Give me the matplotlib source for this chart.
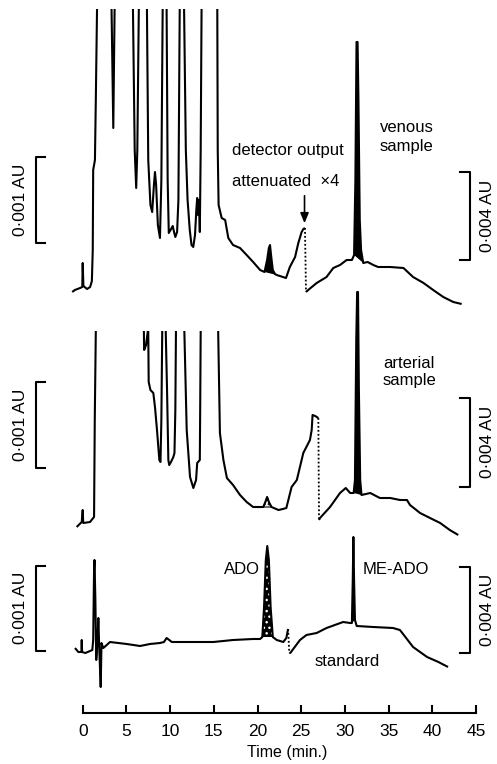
import numpy as np
import matplotlib
matplotlib.use("Agg")
import matplotlib.pyplot as plt

# ---------------- data (time in min, signal in display units above panel base) -------------
nan = np.nan

# venous sample: before the attenuation change
venous_t1 = [-1.2, -0.9, -0.3, -0.05, 0.0, 0.08, 0.5, 0.85, 1.05, 1.15, 1.2, 1.4, 1.5, 1.64, nan,
             3.3, 3.5, 3.65, nan,
             5.75, 5.95, 6.12, 6.25, 6.42, nan,
             7.35, 7.5, 7.75, 7.95, 8.15, 8.27, 8.4, 8.6, 8.84, 9.0, 9.15, nan,
             9.6, 9.72, 9.85, 10.05, 10.3, 10.45, 10.6, 10.8, 10.95, 11.1, nan,
             11.6, 11.8, 12.0, 12.25, 12.45, 12.65, 12.85, 13.0, 13.1, 13.2, 13.3, 13.4, 13.5, 13.6, nan,
             15.4, 15.45, 15.55, 15.9, 16.3, 16.66, 17.2, 18.0, 18.76, 19.5, 20.3, 20.8,
             21.1, 21.3, 21.43, 21.55, 21.75, 22.0, 22.2, 23.26, 23.7, 24.3, 24.67, 25.05, 25.25, 25.43]
venous_v1 = [8, 10, 12, 13, 37, 14, 11, 13, 19, 50, 130, 140, 200, 291, nan,
             291, 172, 291, nan,
             291, 150, 112, 150, 291, nan,
             291, 140, 95, 88, 115, 128, 115, 75, 62, 120, 291, nan,
             291, 120, 67, 70, 74, 68, 63, 68, 100, 291, nan,
             291, 150, 100, 70, 55, 53, 65, 90, 102, 85, 100, 68, 150, 291, nan,
             291, 150, 95, 82, 80, 62, 55, 52, 45, 38, 30, 28,
             40, 52, 55, 45, 30, 26, 25, 22, 33, 43, 57, 68, 71, 72]
# venous sample: after the attenuation change (x4)
venous_t2 = [25.55, 25.8, 26.77, 27.9, 28.67, 29.44, 30.2, 30.8, 31.05, 31.2, 31.33, 31.45, 31.55,
             31.7, 31.85, 32.1, 32.6, 33.25, 33.8, 35.16, 36.7, 37.8, 39.0, 40.1, 41.26, 42.4, 43.36]
venous_v2 = [8, 10, 17, 23, 32, 35, 40, 40, 45, 120, 258, 258, 200,
             80, 50, 37, 38, 35, 33, 33, 32, 23, 17, 10, 3, -2, -4]

# arterial sample
arterial_t1 = [-0.69, -0.11, 0.0, 0.06, 0.84, 1.2, 1.3, 1.38, 1.5, nan,
               7.0, 7.03, 7.25, 7.45, nan,
               7.5, 7.55, 7.75, 8.08, 8.27, 8.5, 8.77, 8.9, 9.0, 9.1, nan,
               9.5, 9.65, 9.8, 9.9, 10.1, 10.37, 10.5, 10.6, 10.67, nan,
               11.63, 11.9, 12.28, 12.66, 12.97, 13.1, 13.4, 13.45, 13.5, nan,
               15.5, 15.7, 16.1, 16.5, 17.2, 18.0, 18.76, 19.5, 20.66, 20.9, 21.1, 21.3, 21.6,
               22.4, 22.9, 23.3, 23.9, 24.5, 25.24, 26.0, 26.2, 26.3, 26.6, 26.96]
arterial_v1 = [13, 18, 30, 17, 18, 22, 23, 120, 209, nan,
               209, 190, 195, 209, nan,
               209, 158, 150, 147, 133, 110, 80, 78, 120, 209, nan,
               209, 150, 80, 75, 78, 83, 87, 130, 209, nan,
               209, 110, 63, 52, 60, 77, 80, 140, 209, nan,
               209, 107, 80, 62, 55, 45, 38, 33, 33, 38, 43, 38, 33,
               30, 31, 32, 53, 60, 87, 100, 110, 125, 124, 122]
arterial_t2 = [27.04, 27.15, 28.3, 29.44, 30.1, 30.6, 31.0, 31.15, 31.3, 31.4, 31.5, 31.6, 31.75,
               31.9, 32.9, 34.0, 35.2, 36.3, 37.1, 37.45, 38.6, 39.74, 40.9, 42.0, 42.97]
arterial_v2 = [20, 22, 33, 47, 52, 47, 47, 60, 200, 248, 248, 150, 60,
               45, 47, 42, 42, 40, 40, 35, 27, 22, 17, 10, 5]

# standard
standard_t1 = [-0.88, -0.5, -0.15, -0.11, -0.07, 0.3, 0.84, 1.1, 1.2, 1.3, 1.35, 1.45, 1.55, 1.7,
               1.79, 1.9, 2.06, 2.15, 2.36, 2.75, 3.12, 4.07, 5.03, 6.56, 7.7, 8.84, 9.3, 9.6,
               10.2, 11.9, 14.2, 14.95, 17.2, 19.5, 20.3, 20.55, 20.75, 20.95, 21.12, 21.3, 21.5,
               21.75, 22.2, 22.95, 23.3, 23.5]
standard_v1 = [12, 8, 8, 20, 8, 7, 9, 10, 20, 90, 100, 60, 0, 20,
               42, 10, -27, 17, 12, 15, 18, 17, 16, 14, 16, 17, 18, 22,
               18, 18, 18, 18, 20, 21, 21, 23, 53, 100, 114, 100, 53,
               23, 20, 18, 22, 31]
standard_t2 = [23.64, 23.75, 24.86, 25.6, 26.77, 27.9, 29.8, 30.6, 30.8, 30.9, 30.97, 31.05, 31.15,
               31.35, 33.25, 35.5, 36.3, 37.8, 39.4, 40.7, 41.8]
standard_v2 = [7, 7, 20, 25, 27, 32, 38, 37, 37, 80, 123, 80, 40,
               34, 33, 32, 30, 13, 3, -2, -7]

time_ticks = [0, 5, 10, 15, 20, 25, 30, 35, 40, 45]

# ---------------- layout -------------------------------------------------------------------
W, H = 497, 764
AX_ROW = 712.7          # pixel row of the time axis
X0_PX, PX_PER_MIN = 82.7, 8.74

plt.rcParams['font.family'] = ['Liberation Sans', 'DejaVu Sans']
fig = plt.figure(figsize=(W / 100, H / 100), dpi=100)
ax = fig.add_axes([0, (H - AX_ROW) / H, 1, AX_ROW / H])
ax.set_xlim(-X0_PX / PX_PER_MIN, (W - X0_PX) / PX_PER_MIN)
ax.set_ylim(-AX_ROW, 0)

panels = [
    # t1, v1, t2, v2, base row, fills (t0, t1, style)
    (venous_t1, venous_v1, venous_t2, venous_v2, 300,
     [(20.75, 22.25, 'solid'), (30.95, 32.15, 'solid')]),
    (arterial_t1, arterial_v1, arterial_t2, arterial_v2, 540,
     [(20.6, 21.65, 'dots'), (31.0, 31.95, 'solid')]),
    (standard_t1, standard_v1, standard_t2, standard_v2, 660,
     [(20.5, 21.8, 'stipple'), (30.75, 31.2, 'solid')]),
]

LW = 1.5
for t1, v1, t2, v2, base, fills in panels:
    t1 = np.array(t1, float); y1 = np.array(v1, float) - base
    t2 = np.array(t2, float); y2 = np.array(v2, float) - base
    tt = np.concatenate([t1, t2]); yy = np.concatenate([y1, y2])
    for a, b, style in fills:
        m = (tt >= a) & (tt <= b) & ~np.isnan(yy)
        if style == 'solid':
            ax.fill(tt[m], yy[m], color='black', lw=0, zorder=2)
        elif style == 'stipple':
            ax.fill(tt[m], yy[m], color='black', lw=0, zorder=2)
            ax.fill(tt[m], yy[m], facecolor='none', edgecolor='white', hatch='...', lw=0, zorder=2.5)
        else:
            ax.fill(tt[m], yy[m], facecolor='white', edgecolor='black', hatch='....', lw=0.8, zorder=2)
    ax.plot(t1, y1, color='black', lw=LW, solid_joinstyle='round', solid_capstyle='butt', zorder=3)
    ax.plot(t2, y2, color='black', lw=LW, solid_joinstyle='round', solid_capstyle='butt', zorder=3)
    ax.plot([t1[-1], t2[0]], [y1[-1], y2[0]], color='black', lw=1.3, ls=(0, (1, 1.2)), zorder=3)

# time axis
for s in ['top', 'left', 'right']:
    ax.spines[s].set_visible(False)
ax.spines['bottom'].set_bounds(time_ticks[0], time_ticks[-1])
ax.spines['bottom'].set_linewidth(1.5)
ax.set_yticks([])
ax.set_xticks(time_ticks)
ax.set_xticklabels([str(v) for v in time_ticks])
ax.tick_params(axis='x', direction='in', length=5.5, width=1.5, pad=8, labelsize=12.5)
ax.patch.set_alpha(0)

def fx(px):
    return px / W

def fy(row):
    return 1 - row / H

# scale bars (figure pixel positions)
lbl_font = dict(fontsize=12.5, rotation=90, ha='center', va='center')
left_bars = [(157, 243, 200), (382, 468, 425), (566, 651, 608)]
right_bars = [(172, 260, 216), (398, 487, 442), (567, 653, 610)]
for top, bot, c in left_bars:
    fig.lines.append(plt.Line2D([fx(45), fx(36), fx(36), fx(45)], [fy(top), fy(top), fy(bot), fy(bot)],
                                transform=fig.transFigure, color='black', lw=1.5))
    fig.text(fx(20.5), fy(c), '0\u00b7001 AU', **lbl_font)
for top, bot, c in right_bars:
    fig.lines.append(plt.Line2D([fx(460), fx(470), fx(470), fx(460)], [fy(top), fy(top), fy(bot), fy(bot)],
                                transform=fig.transFigure, color='black', lw=1.5))
    fig.text(fx(487), fy(c), '0\u00b7004 AU', **lbl_font)

txt = dict(fontsize=12, color='black')
fig.text(fx(232), fy(150), 'detector output', ha='left', va='center', **txt)
fig.text(fx(232), fy(182), 'attenuated  \u00d74', ha='left', va='center', **txt)
fig.text(fx(380), fy(128), 'venous', ha='left', va='center', **txt)
fig.text(fx(380), fy(146), 'sample', ha='left', va='center', **txt)
fig.text(fx(383), fy(363), 'arterial', ha='left', va='center', **txt)
fig.text(fx(383), fy(381), 'sample', ha='left', va='center', **txt)
fig.text(fx(242), fy(570), 'ADO', ha='center', va='center', **txt)
fig.text(fx(396), fy(570), 'ME-ADO', ha='center', va='center', **txt)
fig.text(fx(347), fy(662), 'standard', ha='center', va='center', **txt)
fig.text(fx(287.5), fy(753), 'Time (min.)', ha='center', va='center', fontsize=11.5)

ax.annotate('', xy=(venous_t1[-1] - 0.05, venous_v1[-1] - 300 + 2),
            xytext=(venous_t1[-1] - 0.05, venous_v1[-1] - 300 + 35),
            arrowprops=dict(arrowstyle='-|>,head_length=0.6,head_width=0.25', color='black', lw=1.2))

fig.savefig('out.png', dpi=100, facecolor='white')
